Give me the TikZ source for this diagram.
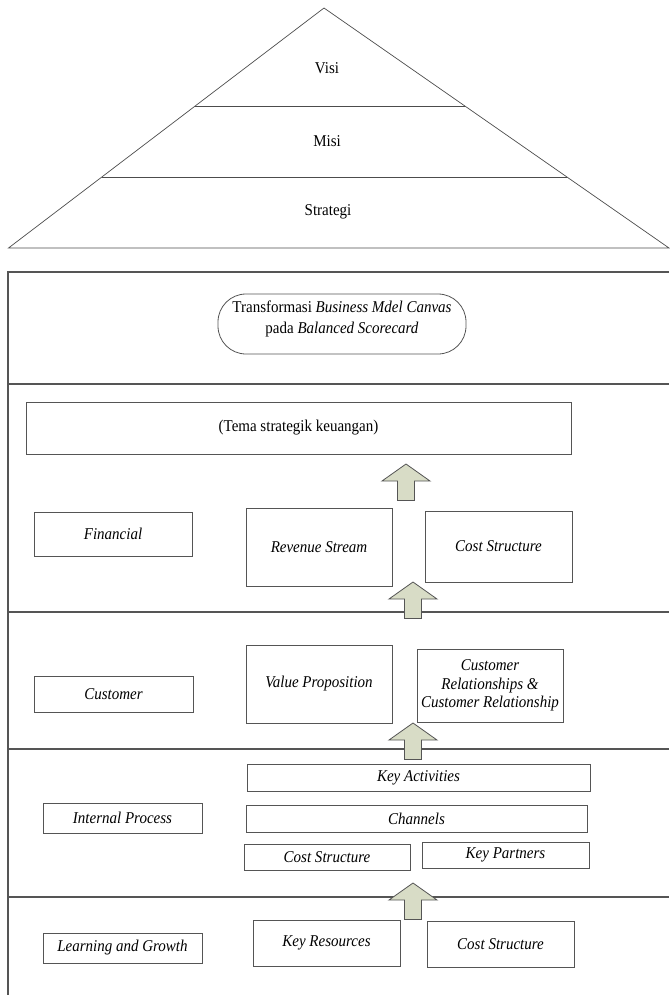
\documentclass[tikz,border=0pt]{standalone}
\usepackage{fontspec}
\setmainfont{Liberation Serif}
\usetikzlibrary{calc}
\definecolor{lineg}{HTML}{555555}
\definecolor{arrfill}{HTML}{D8DCC6}
\newcommand\vs[1]{\scalebox{1}[1.1]{#1}}
\begin{document}
\begin{tikzpicture}[x=1pt,y=-1pt,
  every node/.style={font=\fontsize{15}{18.5}\selectfont},
  box/.style={draw=lineg,line width=0.8pt,inner sep=0pt,outer sep=0pt,align=center},
  frameline/.style={draw=lineg,line width=1.1pt},
  triline/.style={draw=black!70,line width=0.7pt},
  blockarrow/.style={draw=lineg,fill=arrfill,line width=0.8pt,line join=miter}]
\useasboundingbox (0,0) rectangle (669,995);
% pyramid
\coordinate (apex) at (324,8);
\coordinate (bl) at (8.5,248);
\coordinate (br) at (669,248);
\draw[triline] (apex) -- (br) -- (bl) -- cycle;
\draw[triline] ($(apex)!0.4083!(bl)$) -- ($(apex)!0.4083!(br)$);
\draw[triline] ($(apex)!0.7042!(bl)$) -- ($(apex)!0.7042!(br)$);
\node (visi) at (327,68) {\vs{Visi}};
\node (misi) at (327,141) {\vs{Misi}};
\node (strat) at (328,212) {\vs{Strategi}};
% frame
\draw[frameline] (669,272) -- (8,272) -- (8,995);
\foreach \yy in {384,612,749,897} \draw[frameline] (8,\yy) -- (669,\yy);
% title
\node[box,rounded corners=28pt,minimum width=248pt,minimum height=60pt] (bmc) at (342,324) {};
\node[align=center,font=\fontsize{15}{21}\selectfont] (bmct) at (342,319) {\vs{Transformasi \textit{Business Mdel Canvas}}\\\vs{pada \textit{Balanced Scorecard}}};
% financial
\node[box,minimum width=545pt,minimum height=52pt] (tema) at (298.5,428) {\vs{(Tema strategik keuangan)}};
\node[box,minimum width=158pt,minimum height=44pt] (fin) at (113,534) {\vs{\textit{Financial}}};
\node[box,minimum width=146pt,minimum height=78pt] (rev) at (319,547) {\vs{\textit{Revenue Stream}}};
\node[box,minimum width=147pt,minimum height=71pt] (costf) at (498.5,546.5) {\vs{\textit{Cost Structure}}};
% customer
\node[box,minimum width=159pt,minimum height=36pt] (cust) at (113.5,694) {\vs{\textit{Customer}}};
\node[box,minimum width=146pt,minimum height=78pt] (vp) at (319,684) {\vs{\textit{Value Proposition}}};
\node[box,minimum width=146pt,minimum height=73pt] (cr) at (490,685.5) {\vs{\textit{Customer}}\\\vs{\textit{Relationships \&}}\\\vs{\textit{Customer Relationship}}};
% internal process
\node[box,minimum width=343pt,minimum height=27pt] (ka) at (418.5,777.5) {\vs{\textit{Key Activities}}};
\node[box,minimum width=159pt,minimum height=30pt] (ip) at (122.5,818) {\vs{\textit{Internal Process}}};
\node[box,minimum width=341pt,minimum height=27pt] (ch) at (416.5,818.5) {\vs{\textit{Channels}}};
\node[box,minimum width=166pt,minimum height=26pt] (costip) at (327,857) {\vs{\textit{Cost Structure}}};
\node[box,minimum width=167pt,minimum height=26pt] (kp) at (505.5,855) {\vs{\textit{Key Partners}}};
% learning and growth
\node[box,minimum width=159pt,minimum height=30pt] (lg) at (122.5,948) {\vs{\textit{Learning and Growth}}};
\node[box,minimum width=147pt,minimum height=46pt] (kr) at (326.5,943) {\vs{\textit{Key Resources}}};
\node[box,minimum width=147pt,minimum height=46pt] (costlg) at (500.5,944) {\vs{\textit{Cost Structure}}};
% block arrows (tip, head half-width 24, head 17, shaft half-width 8.5, shaft 20)
\foreach \tx/\ty in {406/464, 413/582, 413/723, 413/883}
  \draw[blockarrow] (\tx,\ty) -- ++(24,17) -- ++(-15.5,0) -- ++(0,19.5) -- ++(-17,0) -- ++(0,-19.5) -- ++(-15.5,0) -- cycle;
\end{tikzpicture}
\end{document}
